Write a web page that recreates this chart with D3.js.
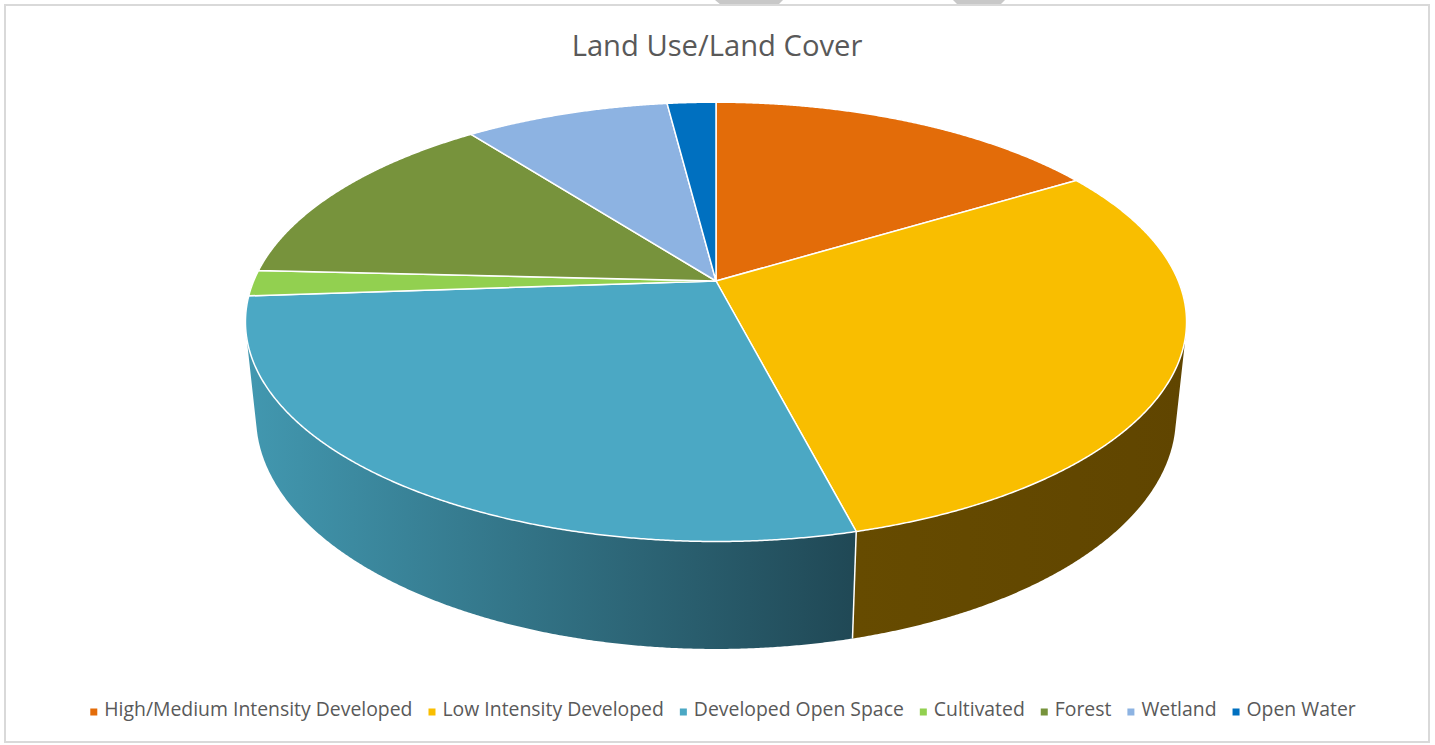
<!DOCTYPE html>
<html lang="en">
<head>
    <meta charset="UTF-8">
    <title>Land Use/Land Cover</title>
    <script src="https://d3js.org/d3.v7.min.js"></script>
    <style>
        body { margin: 0; background: #fff; }
        svg { display: block; }
        .title { font-family: "Open Sans", sans-serif; fill: #595959; }
        .legend text { font-family: "Open Sans", sans-serif; fill: #595959; }
    </style>
</head>
<body>
    <svg width="1435" height="745"></svg>

    <script>
        // Chart data (percent of area)
        const categories = [
            "High/Medium Intensity Developed",
            "Low Intensity Developed",
            "Developed Open Space",
            "Cultivated",
            "Forest",
            "Wetland",
            "Open Water"
        ];
        const values = [16.3, 29.7, 27.9, 1.9, 13.8, 8.4, 2.0];

        const topColors = ["#e36c09", "#f9be00", "#4ba8c4", "#92d050", "#77933c", "#8db3e2", "#0070c0"];
        // wall shading, left -> right
        const wallColors = [
            ["#7a3c05", "#6e3604"],
            ["#664b00", "#604500"],
            ["#4298b0", "#204855"],
            ["#5a8030", "#4f7028"],
            ["#4a5d25", "#404f20"],
            ["#577090", "#4c6280"],
            ["#004a80", "#003f6e"]
        ];

        const svg = d3.select("svg");

        // little gray tabs peeking over the top edge
        svg.append("path").attr("d", "M715,0 L783,0 L778,5 L721,5 Z").attr("fill", "#c8c8c8");
        svg.append("path").attr("d", "M953,0 L1005,0 L1000,5 L958,5 Z").attr("fill", "#c8c8c8");

        // chart frame
        svg.append("rect")
            .attr("x", 5).attr("y", 5)
            .attr("width", 1424).attr("height", 737)
            .attr("fill", "#fff")
            .attr("stroke", "#d9d9d9")
            .attr("stroke-width", 2);

        // title
        svg.append("text")
            .attr("class", "title")
            .attr("x", 717).attr("y", 56)
            .attr("text-anchor", "middle")
            .attr("font-size", 29.2)
            .text("Land Use/Land Cover");

        // simple perspective camera for the tilted disc
        const cx = 716, cy = 281;          // projected centre of the disc
        const F = 2210, D = 4.78;           // focal length, camera distance
        const tilt = 27.3 * Math.PI / 180;
        const sn = Math.sin(tilt), cs = Math.cos(tilt);
        const thick = 0.233;

        function project(theta, yv) {
            const x = Math.sin(theta), z = -Math.cos(theta);
            const depth = D - yv * sn - z * cs;
            const up = yv * cs - z * sn;
            return [cx + F * x / depth, cy - F * up / depth];
        }

        const pie = d3.pie().sort(null).value(d => d);
        const arcs = pie(values).map((a, i) => ({ ...a, i }));

        const defs = svg.append("defs");
        const gWalls = svg.append("g");
        const gTop = svg.append("g");

        const step = Math.PI / 720;
        function range(a0, a1) {
            const n = Math.max(2, Math.ceil((a1 - a0) / step));
            return d3.range(n + 1).map(k => a0 + (a1 - a0) * k / n);
        }

        // walls (front half only), far ones first
        const lo = Math.PI / 2, hi = 3 * Math.PI / 2;
        const wallArcs = arcs
            .filter(a => a.endAngle > lo && a.startAngle < hi)
            .sort((a, b) => (-Math.cos((a.startAngle + a.endAngle) / 2)) - (-Math.cos((b.startAngle + b.endAngle) / 2)));

        wallArcs.forEach(a => {
            const a0 = Math.max(a.startAngle, lo), a1 = Math.min(a.endAngle, hi);
            const ts = range(a0, a1);
            let d = "";
            for (let k = 0; k < ts.length - 1; k++) {
                let q = [project(ts[k], 0), project(ts[k + 1], 0), project(ts[k + 1], -thick), project(ts[k], -thick)];
                if (d3.polygonArea(q) < 0) q = q.reverse();
                d += "M" + q.map(p => p.join(",")).join("L") + "Z";
            }
            const xs = ts.map(t => project(t, 0)[0]);
            const gid = "wall" + a.i;
            const grad = defs.append("linearGradient")
                .attr("id", gid)
                .attr("gradientUnits", "userSpaceOnUse")
                .attr("x1", d3.min(xs)).attr("x2", d3.max(xs))
                .attr("y1", 0).attr("y2", 0);
            grad.append("stop").attr("offset", 0).attr("stop-color", wallColors[a.i][0]);
            grad.append("stop").attr("offset", 1).attr("stop-color", wallColors[a.i][1]);
            gWalls.append("path").attr("d", d).attr("fill", `url(#${gid})`);
        });

        // vertical edges where slices meet on the visible wall
        arcs.forEach(a => {
            const t = a.startAngle;
            if (-Math.cos(t) > 1 / (D * cs)) {
                const p0 = project(t, 0), p1 = project(t, -thick);
                gWalls.append("line")
                    .attr("x1", p0[0]).attr("y1", p0[1])
                    .attr("x2", p1[0]).attr("y2", p1[1])
                    .attr("stroke", "#fff").attr("stroke-width", 1.5);
            }
        });

        // top faces
        arcs.forEach(a => {
            const pts = range(a.startAngle, a.endAngle).map(t => project(t, 0));
            gTop.append("path")
                .attr("d", "M" + cx + "," + cy + "L" + pts.map(p => p.join(",")).join("L") + "Z")
                .attr("fill", topColors[a.i])
                .attr("stroke", "#fff")
                .attr("stroke-width", 1.5)
                .attr("stroke-linejoin", "round");
        });

        // legend
        const legend = svg.append("g").attr("class", "legend");
        const items = legend.selectAll("g").data(categories).join("g");
        items.append("rect")
            .attr("width", 7).attr("height", 7)
            .attr("y", -7.5)
            .attr("fill", (d, i) => topColors[i]);
        items.append("text")
            .attr("x", 14)
            .attr("y", 0)
            .attr("font-size", 19.4)
            .text(d => d);

        let xpos = 0;
        const gap = 16;
        items.each(function () {
            const w = d3.select(this).select("text").node().getComputedTextLength();
            d3.select(this).attr("data-x", xpos);
            xpos += 14 + w + gap;
        });
        const total = xpos - gap;
        const startX = 723 - total / 2;
        items.attr("transform", function () {
            return `translate(${startX + +this.getAttribute("data-x")},716)`;
        });
    </script>
</body>
</html>
